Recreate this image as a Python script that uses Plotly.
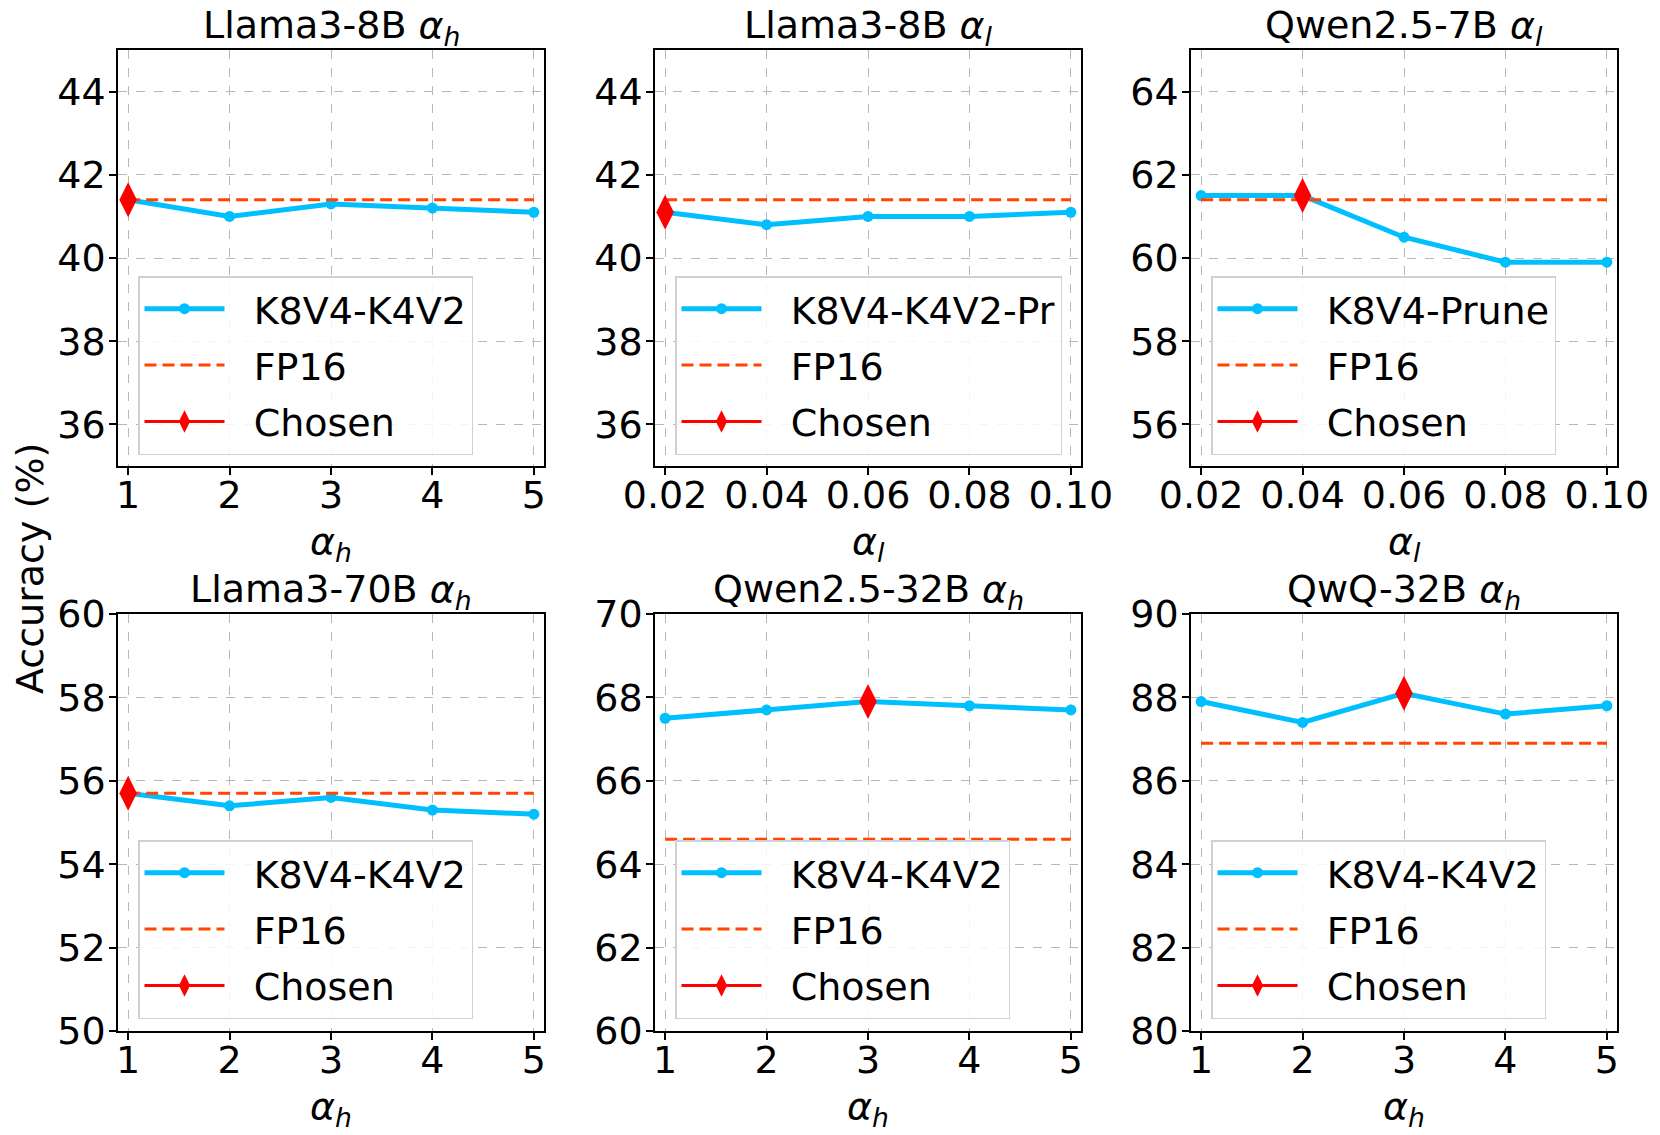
import plotly.graph_objects as go

# ---------------- data ----------------
x_h = [1, 2, 3, 4, 5]
x_h_text = ["1", "2", "3", "4", "5"]
x_l = [0.02, 0.04, 0.06, 0.08, 0.10]
x_l_text = ["0.02", "0.04", "0.06", "0.08", "0.10"]

titles = [
    "Llama3-8B <i>α<sub>h</sub></i>",
    "Llama3-8B <i>α<sub>l</sub></i>",
    "Qwen2.5-7B <i>α<sub>l</sub></i>",
    "Llama3-70B <i>α<sub>h</sub></i>",
    "Qwen2.5-32B <i>α<sub>h</sub></i>",
    "QwQ-32B <i>α<sub>h</sub></i>",
]
xlabels = [
    "<i>α<sub>h</sub></i>", "<i>α<sub>l</sub></i>", "<i>α<sub>l</sub></i>",
    "<i>α<sub>h</sub></i>", "<i>α<sub>h</sub></i>", "<i>α<sub>h</sub></i>",
]
series_names = ["K8V4-K4V2", "K8V4-K4V2-Pr", "K8V4-Prune",
                "K8V4-K4V2", "K8V4-K4V2", "K8V4-K4V2"]

llama8b_h = [41.4, 41.0, 41.3, 41.2, 41.1]
llama8b_l = [41.1, 40.8, 41.0, 41.0, 41.1]
qwen7b_l = [61.5, 61.5, 60.5, 59.9, 59.9]
llama70b_h = [55.7, 55.4, 55.6, 55.3, 55.2]
qwen32b_h = [67.5, 67.7, 67.9, 67.8, 67.7]
qwq32b_h = [87.9, 87.4, 88.1, 87.6, 87.8]

fp16 = [41.4, 41.4, 61.4, 55.7, 64.6, 86.9]
chosen_idx = [0, 0, 1, 0, 2, 2]
y_ranges = [[35, 45], [35, 45], [55, 65], [50, 60], [60, 70], [80, 90]]

values = [llama8b_h, llama8b_l, qwen7b_l, llama70b_h, qwen32b_h, qwq32b_h]
xs = [x_h, x_l, x_l, x_h, x_h, x_h]
xtexts = [x_h_text, x_l_text, x_l_text, x_h_text, x_h_text, x_h_text]

# ---------------- layout geometry ----------------
W, H = 1660, 1135
OFF = 8  # page body margin
x_px = [(118 - OFF, 544 - OFF), (655 - OFF, 1081 - OFF), (1191 - OFF, 1617 - OFF)]
y_px = [(50 - OFF, 466 - OFF), (614 - OFF, 1031 - OFF)]

FONT = "DejaVu Sans"
FS = 38
BLUE = "#00BFFF"
ORANGE = "#FF4500"
RED = "#FF0000"
PAD = "\u00a0\u00a0"

fig = go.Figure()
layout = dict(
    width=W, height=H,
    margin=dict(l=0, r=0, t=0, b=0, autoexpand=False),
    paper_bgcolor="white", plot_bgcolor="white",
    font=dict(family=FONT, size=FS, color="black"),
    showlegend=True,
)
annotations = []

for i in range(6):
    r, c = divmod(i, 3)
    n = i + 1
    xa = "x" if n == 1 else f"x{n}"
    ya = "y" if n == 1 else f"y{n}"
    lg = "legend" if n == 1 else f"legend{n}"
    x0, x1 = x_px[c]
    y0, y1 = y_px[r]
    xd = [x0 / W, x1 / W]
    yd = [1 - y1 / H, 1 - y0 / H]

    xv = xs[i]
    step = xv[1] - xv[0]
    xr = [xv[0] - 0.1 * step, xv[-1] + 0.1 * step]

    common = dict(
        showline=True, mirror=True, linecolor="black", linewidth=1.5,
        ticks="outside", ticklen=7, tickwidth=1.5, tickcolor="black",
        showgrid=True, gridcolor="#b8b8b8", gridwidth=1, griddash="dash",
        zeroline=False, automargin=False,
        tickfont=dict(family=FONT, size=FS, color="black"),
    )
    layout["xaxis" if n == 1 else f"xaxis{n}"] = dict(
        domain=xd, range=xr, anchor=ya, ticklabelstandoff=-12,
        tickmode="array", tickvals=xv, ticktext=xtexts[i], **common)
    layout["yaxis" if n == 1 else f"yaxis{n}"] = dict(
        domain=yd, range=y_ranges[i], anchor=xa, ticklabelstandoff=-4,
        tickmode="linear", tick0=0, dtick=2, **common)

    layout[lg] = dict(
        x=(x0 + 20) / W, y=1 - (y0 + 226) / H,
        xanchor="left", yanchor="top",
        bgcolor="rgba(255,255,255,0.85)", bordercolor="#d0d0d0", borderwidth=1.5,
        font=dict(family=FONT, size=FS, color="black"),
        itemwidth=80, tracegroupgap=4, traceorder="grouped",
    )

    fig.add_trace(go.Scatter(
        x=xv, y=values[i], mode="lines+markers", name=PAD + series_names[i],
        line=dict(color=BLUE, width=5), marker=dict(color=BLUE, size=11),
        xaxis=xa, yaxis=ya, legend=lg, legendgroup=f"a{n}"))
    fig.add_trace(go.Scatter(
        x=[xv[0], xv[-1]], y=[fp16[i], fp16[i]], mode="lines", name=PAD + "FP16",
        line=dict(color=ORANGE, width=3, dash="12px,6px"),
        xaxis=xa, yaxis=ya, legend=lg, legendgroup=f"b{n}"))
    k = chosen_idx[i]
    fig.add_trace(go.Scatter(
        x=[xv[k]], y=[values[i][k]], mode="lines+markers", name=PAD + "Chosen",
        line=dict(color=RED, width=3),
        marker=dict(color=RED, size=25, symbol="diamond-tall"),
        xaxis=xa, yaxis=ya, legend=lg, legendgroup=f"c{n}"))

    # subplot title
    annotations.append(dict(
        text=titles[i], xref=f"{xa} domain", x=0.5, yref="paper", y=1 - y0 / H,
        xanchor="center", yanchor="bottom", yshift=-4, showarrow=False,
        font=dict(family=FONT, size=FS, color="black")))
    # x-axis label
    annotations.append(dict(
        text=xlabels[i], xref=f"{xa} domain", x=0.5, yref="paper",
        y=1 - (y1 + 77) / H, xanchor="center", yanchor="middle", showarrow=False,
        font=dict(family=FONT, size=FS, color="black")))

annotations.append(dict(
    text="Accuracy (%)", xref="paper", x=(30 - OFF) / W, yref="paper",
    y=1 - (569 - OFF) / H,
    xanchor="center", yanchor="middle", textangle=-90, showarrow=False,
    font=dict(family=FONT, size=FS, color="black")))

layout["annotations"] = annotations
fig.update_layout(**layout)
fig.write_html("out.html")
